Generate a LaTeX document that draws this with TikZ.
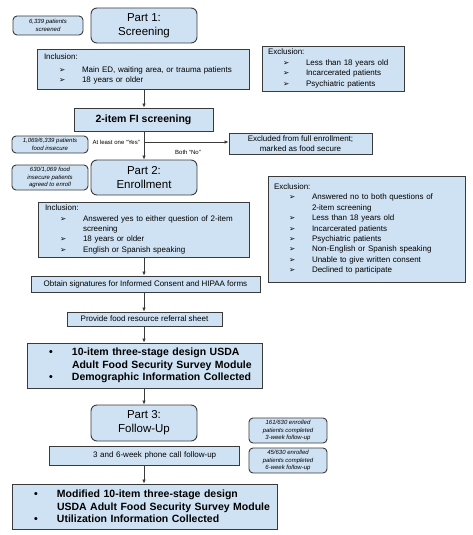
\documentclass[tikz,border=0pt]{standalone}
\usepackage{fontspec}
\setmainfont{Liberation Sans}
\newfontfamily\symfont{DejaVu Sans}
\usetikzlibrary{arrows.meta}
\definecolor{boxfill}{HTML}{CFE2F3}
\definecolor{boxline}{HTML}{3A3A3A}
\newcommand{\itm}[1]{\mbox{\hspace*{15pt}\makebox[23pt][l]{{\symfont\fontsize{7.5}{7.5}\selectfont ➢}}#1}}
\newcommand{\cnt}[1]{\mbox{\hspace*{38pt}#1}}
\newcommand{\bul}[2]{\mbox{\hspace*{#1}\makebox[23pt][l]{•}#2}}
\newcommand{\nbul}[2]{\mbox{\hspace*{#1}\hspace*{23pt}#2}}
\begin{document}
\begin{tikzpicture}[x=1pt,y=-1pt,
  box/.style={draw=boxline,fill=boxfill,line width=0.9pt,inner ysep=0pt},
  part/.style={box,rounded corners=6pt,inner xsep=2pt,font=\fontsize{11.5}{14}\selectfont,align=center},
  note/.style={box,rounded corners=4pt,inner xsep=1pt,font=\fontsize{6}{7.6}\selectfont\itshape,align=center},
  listbox/.style={box,inner xsep=7pt,font=\fontsize{8}{10.4}\selectfont,align=left},
  plainbox/.style={box,inner xsep=2pt,font=\fontsize{8}{10}\selectfont,align=center},
  boldbox/.style={box,inner xsep=0pt,font=\fontsize{10.5}{12.7}\selectfont\bfseries,align=left},
  lbl/.style={inner sep=0pt,font=\fontsize{6}{7}\selectfont},
  arr/.style={draw=boxline,line width=0.8pt,-{Latex[length=4pt,width=3.6pt]}}]
\useasboundingbox (0,0) rectangle (473,535);

% Part 1
\node[note,minimum width=70pt,minimum height=19pt] (n1) at (48,25.5) {6,339 patients\\screened};
\node[part,minimum width=106pt,minimum height=35pt] (p1) at (144,25.5) {Part 1:\\Screening};
\node[listbox,minimum width=212pt,minimum height=40pt,text width=198pt] (inc1) at (143,69)
  {Inclusion:\\[3pt]\itm{Main ED, waiting area, or trauma patients}\\\itm{18 years or older}};
\node[listbox,inner xsep=6pt,minimum width=142pt,minimum height=45pt,text width=130pt] (exc1) at (333,68.5)
  {Exclusion:\\\itm{Less than 18 years old}\\\itm{Incarcerated patients}\\\itm{Psychiatric patients}};
\node[box,inner xsep=2pt,minimum width=139pt,minimum height=23pt,font=\fontsize{10.5}{12}\selectfont\bfseries] (fi) at (143.5,119.5) {2-item FI screening};

% branch
\coordinate (split) at (144,142);
\node[note,minimum width=76pt,minimum height=17pt] (n2) at (50,144.5) {1,069/6,339 patients\\food insecure};
\node[plainbox,minimum width=143pt,minimum height=21pt] (excl) at (300.5,143.5) {Excluded from full enrollment;\\marked as food secure};
\node[lbl,anchor=east] (yes) at (140,142) {At least one ``Yes''};
\node[lbl] (no) at (188,152) {Both ``No''};

% Part 2
\node[note,minimum width=76pt,minimum height=25pt] (n3) at (50,177.5) {630/1,069 food\\insecure patients\\agreed to enroll};
\node[part,minimum width=106pt,minimum height=35pt] (p2) at (144,177.5) {Part 2:\\Enrollment};
\node[listbox,minimum width=211pt,minimum height=55pt,text width=197pt] (inc2) at (143.5,229.5)
  {Inclusion:\\\itm{Answered yes to either question of 2-item}\\\cnt{screening}\\\itm{18 years or older}\\\itm{English or Spanish speaking}};
\node[listbox,inner xsep=6pt,minimum width=197pt,minimum height=106pt,text width=185pt] (exc2) at (366.5,229)
  {Exclusion:\\\itm{Answered no to both questions of}\\\cnt{2-item screening}\\\itm{Less than 18 years old}\\\itm{Incarcerated patients}\\\itm{Psychiatric patients}\\\itm{Non-English or Spanish speaking}\\\itm{Unable to give written consent}\\\itm{Declined to participate}};
\node[plainbox,minimum width=229pt,minimum height=16pt] (obt) at (145.5,284) {Obtain signatures for Informed Consent and HIPAA forms};
\node[plainbox,minimum width=155pt,minimum height=14pt] (prov) at (144.5,319) {Provide food resource referral sheet};
\node[boldbox,minimum width=235pt,minimum height=45pt,text width=235pt] (ten) at (144.5,365.5)
  {\bul{22pt}{10-item three-stage design USDA}\\\nbul{22pt}{Adult Food Security Survey Module}\\\bul{22pt}{Demographic Information Collected}};

% Part 3
\node[part,minimum width=106pt,minimum height=36pt] (p3) at (144,423) {Part 3:\\Follow-Up};
\node[note,minimum width=78pt,minimum height=25pt] (n4) at (288,430.5) {161/630 enrolled\\patients completed\\3-week follow-up};
\node[note,minimum width=78pt,minimum height=25pt] (n5) at (288,460.5) {45/630 enrolled\\patients completed\\6-week follow-up};
\node[plainbox,align=left,inner xsep=0pt,minimum width=190pt,minimum height=19pt,text width=190pt] (phone) at (144,455.5) {\mbox{\hspace*{44pt}3 and 6-week phone call follow-up}};
\node[boldbox,minimum width=265pt,minimum height=45pt,text width=265pt] (fin) at (144.5,506.5)
  {\bul{22pt}{Modified 10-item three-stage design}\\\nbul{22pt}{USDA Adult Food Security Survey Module}\\\bul{22pt}{Utilization Information Collected}};

% connectors
\draw[arr] (inc1.south -| split) -- (fi.north -| split);
\draw[arr] (fi.south -| split) -- (p2.north -| split);
\draw[arr] (split) -- (excl.west |- split);
\draw[arr] (inc2.south -| split) -- (obt.north -| split);
\draw[arr] (obt.south -| split) -- (prov.north -| split);
\draw[arr] (prov.south -| split) -- (ten.north -| split);
\draw[arr] (ten.south -| split) -- (p3.north -| split);
\draw[arr] (phone.south -| split) -- (fin.north -| split);
\end{tikzpicture}
\end{document}
